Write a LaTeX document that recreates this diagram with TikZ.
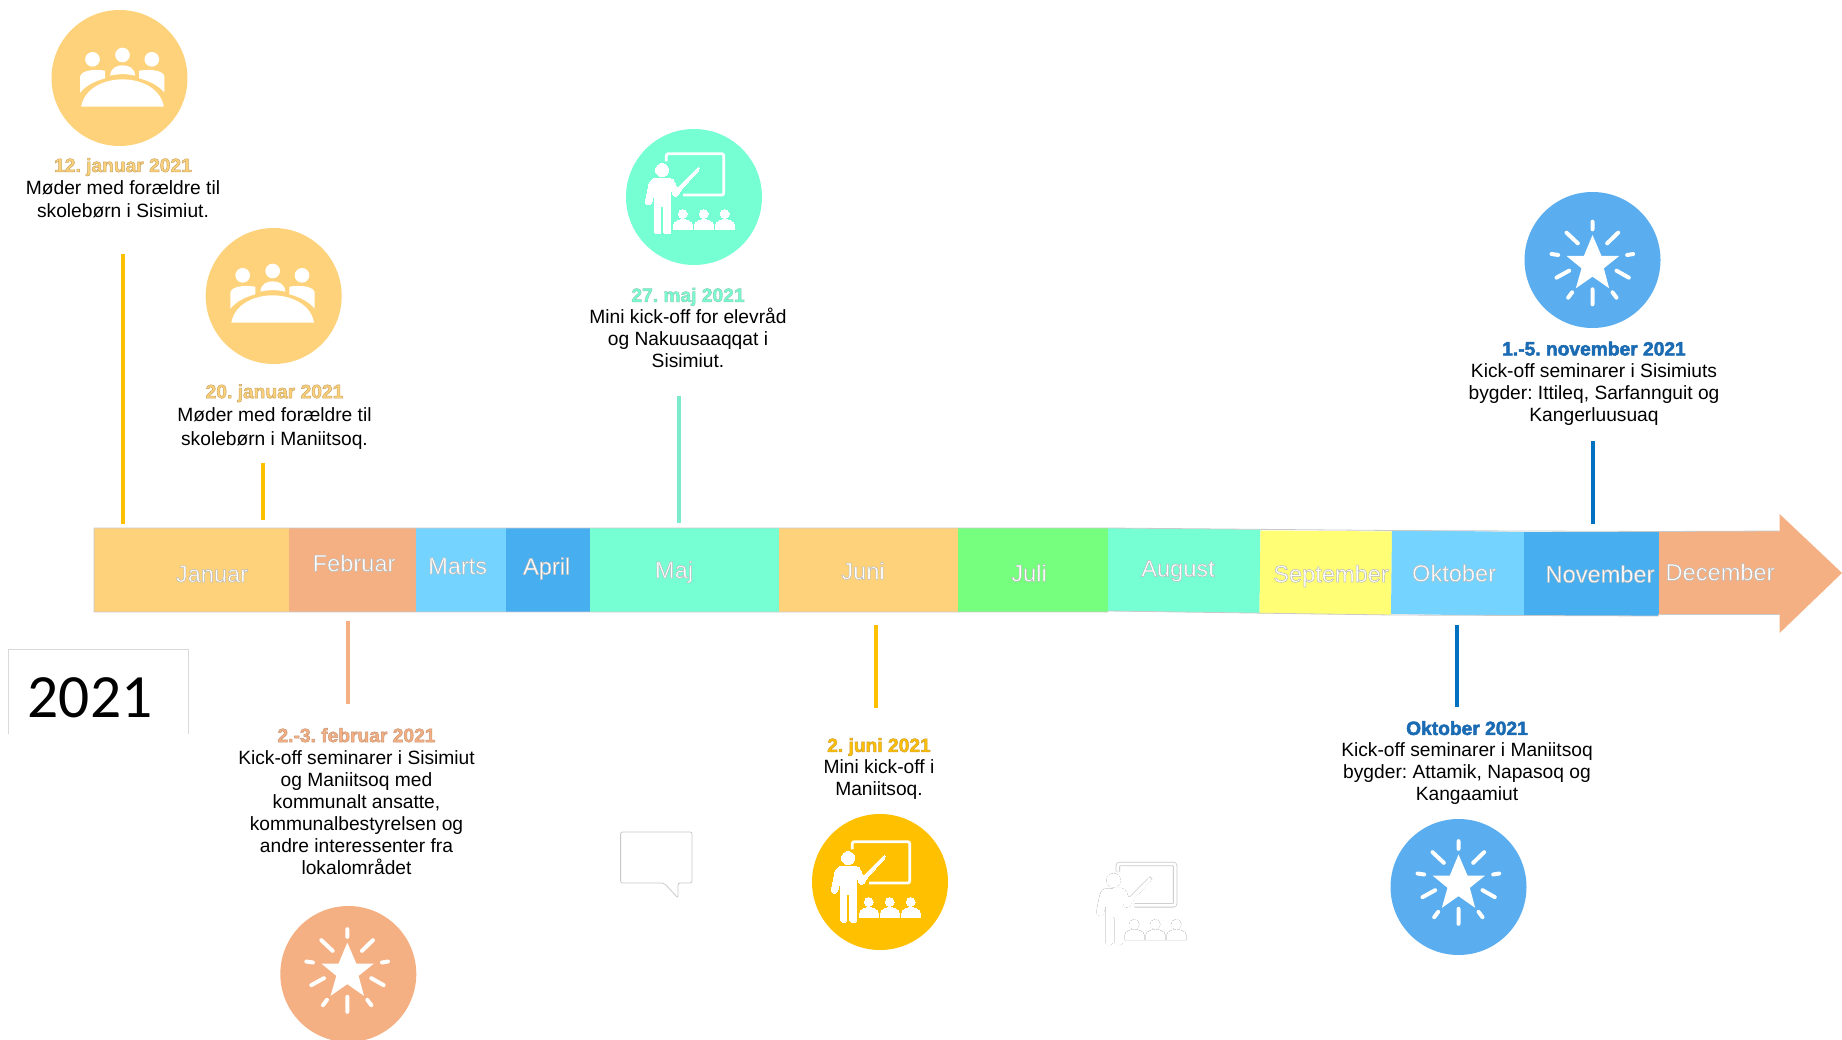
\documentclass[tikz,border=0pt]{standalone}
\usepackage{fontspec}
\setmainfont{Liberation Sans}
\newfontfamily\calibfont{Carlito}
\definecolor{cJan}{HTML}{FDD27A}
\definecolor{cFeb}{HTML}{F4B083}
\definecolor{cMar}{HTML}{75D3FF}
\definecolor{cApr}{HTML}{47AEF0}
\definecolor{cMaj}{HTML}{75FFD3}
\definecolor{cJul}{HTML}{76FF7E}
\definecolor{cSep}{HTML}{FFFE75}
\definecolor{cStar}{HTML}{5AADEE}
\definecolor{cGold}{HTML}{FFC000}
\definecolor{cLine}{HTML}{0070C0}
\definecolor{cDateBlue}{HTML}{1B6CB4}
\definecolor{cEdge}{HTML}{C9C9C9}
\definecolor{cStemMaj}{HTML}{7CEBCB}
\newcommand\outl[2]{\special{pdf:code #1 RG 2 Tr 0.5 w}#2\special{pdf:code 0 Tr}}
\newcommand\mtext[1]{\outl{0.72 0.72 0.72}{#1}}
\newcommand\dtext[3]{{\color{#1}\bfseries\outl{#2}{#3}}}
\tikzset{
  stem/.style={line width=4pt},
  disc/.style={circle,minimum size=136pt,inner sep=0pt,fill=#1},
  seg/.style={fill=#1},
  edge/.style={draw=cEdge,line width=0.8pt},
  monthlbl/.style={text=white,inner sep=0pt,font=\fontsize{23.6}{26}\selectfont},
  note/.style={align=center,inner sep=0pt,text=black,font=\frenchspacing\fontsize{19.2}{22}\selectfont},
  ghost/.style={draw=#1,line width=0.8pt,fill=white},
}
\newcommand\teacherPass[2]{%
  \fill[#1,draw=#1,line width=#2pt] (187,150) circle[radius=19.5];
  \path[fill=#1,draw=#1,line width=#2pt,rounded corners=1.6pt]
    (157,177)--(215,175)--(224,183)--(232,205)--(296,141)--(301,147)--(245,208)--(232,230)--(222,230)--(213,203)--(213,342)--(192,342)--(192,257)--(183,257)--(183,342)--(165,342)--(165,215)--(154,255)--(140,255)--(137,245)--(148,190)--cycle;
  \draw[#1,line width=\dimexpr 2.8pt+#2pt\relax,rounded corners=2pt] (200,124)--(200,101)--(372,101)--(372,225)--(250,225);
  \foreach \dx in {0,63,126}{
    \fill[#1,draw=#1,line width=#2pt] (249+\dx,282) circle[radius=13.5];
    \path[fill=#1,draw=#1,line width=#2pt] (222+\dx,328)--(222+\dx,315) .. controls (222+\dx,304) and (240+\dx,299) .. (250+\dx,299) .. controls (260+\dx,299) and (278+\dx,304) .. (278+\dx,315)--(278+\dx,328)--cycle;
  }
}
\newcommand\teacherIcon[2]{%
  \begin{scope}[shift={(#1,#2)},scale=0.3333,shift={(-280,-231)}]
    \teacherPass{white}{0}
  \end{scope}}
\newcommand\ghostIcon[2]{%
  \begin{scope}[shift={(#1,#2)},scale=0.3333,shift={(-280,-231)}]
    \teacherPass{cEdge}{1.6}
    \teacherPass{white}{0}
  \end{scope}}
\newcommand\meetingIcon[2]{%
  \begin{scope}[shift={(#1,#2)},scale=0.3333,shift={(-358,-233)},white]
    \fill (277,180) circle[radius=22];
    \fill (367,167) circle[radius=22];
    \fill (455,180) circle[radius=22];
    \fill (243,322) .. controls (252,268) and (310,240) .. (367,240) .. controls (424,240) and (482,268) .. (491,322)--cycle;
    \fill (330,229) .. controls (332,205) and (350,198) .. (367,198) .. controls (385,198) and (403,205) .. (405,229) .. controls (380,223) and (355,223) .. (330,229)--cycle;
    \fill (240,280)--(240,232) .. controls (242,215) and (275,208) .. (315,214)--(315,237) .. controls (285,245) and (258,258) .. (240,280)--cycle;
    \fill (493,280)--(493,232) .. controls (491,215) and (458,208) .. (417,214)--(417,237) .. controls (447,245) and (475,258) .. (493,280)--cycle;
  \end{scope}}
\newcommand\starIcon[2]{%
  \begin{scope}[shift={(#1,#2)},scale=0.3333,shift={(-278,-240)},white]
    \fill (278,165)--(305,228)--(358,228)--(312,265)--(328,325)--(278,290)--(228,325)--(245,265)--(200,228)--(252,228)--cycle;
    \draw[line width=4pt,line cap=round]
      (278,125)--(278,148) (200,158)--(234,190) (355,158)--(322,190)
      (155,222)--(175,225) (400,222)--(382,225) (170,293)--(208,272)
      (387,293)--(350,272) (205,353)--(217,337) (350,353)--(338,337)
      (278,328)--(278,373);
  \end{scope}}
\begin{document}
\begin{tikzpicture}[x=1pt,y=-1pt]
\useasboundingbox (0,0) rectangle (1842,1040);
\clip (0,0) rectangle (1842,1040);
% band
\fill[seg=cFeb] (1658.5,531)--(1779.6,531)--(1779.6,514)--(1842,573)--(1779.6,633)--(1779.6,614.5)--(1658.5,614.5)--cycle;
\fill[seg=cJan] (94,528)--(289,528)--(289,612)--(94,612)--cycle;
\fill[seg=cFeb] (289,528)--(416,528)--(416,612)--(289,612)--cycle;
\fill[seg=cMar] (416,528)--(506,528)--(506,612)--(416,612)--cycle;
\fill[seg=cApr] (506,528)--(590,528)--(590,612)--(506,612)--cycle;
\fill[seg=cMaj] (590,528)--(778.5,528)--(778.5,612)--(590,612)--cycle;
\fill[seg=cJan] (778.5,528)--(957.5,528)--(957.5,612)--(778.5,612)--cycle;
\fill[seg=cJul] (957.5,528)--(1108,528)--(1108,612)--(957.5,612)--cycle;
\fill[seg=cMaj] (1108,528)--(1260.5,529.5)--(1259.5,613)--(1108,611)--cycle;
\fill[seg=cSep] (1260.5,530.5)--(1392,531.5)--(1391,615)--(1259.5,613.5)--cycle;
\fill[seg=cMar] (1392,530)--(1524.4,532)--(1524.4,616)--(1391,614)--cycle;
\fill[seg=cApr] (1524.4,532)--(1658.5,532)--(1658.5,616)--(1524.4,616)--cycle;
\draw[edge] (94,612)--(94,528)--(1108,528) (94,612)--(1108,612) (1108,528)--(1392,530.5)--(1658.5,531.5)--(1779.6,531) (1108,611)--(1392,615)--(1658.5,616)--(1658.5,614.5)--(1779.6,614.5);
% month labels
\node[monthlbl] (mJan) at (212,574) {\mtext{Januar}};
\node[monthlbl] (mFeb) at (354,563) {\mtext{Februar}};
\node[monthlbl] (mMar) at (457.6,566) {\mtext{Marts}};
\node[monthlbl] (mApr) at (546.6,568.5) {\mtext{April}};
\node[monthlbl] (mMaj) at (674,572) {\mtext{Maj}};
\node[monthlbl] (mJun) at (863,571) {\mtext{Juni}};
\node[monthlbl] (mJul) at (1029,573) {\mtext{Juli}};
\node[monthlbl] (mAug) at (1178,571) {\mtext{August}};
\node[monthlbl] (mSep) at (1331,576) {\mtext{September}};
\node[monthlbl] (mOkt) at (1454,573) {\mtext{Oktober}};
\node[monthlbl] (mNov) at (1600,574) {\mtext{November}};
\node[monthlbl] (mDec) at (1720,572) {\mtext{December}};
% stems
\coordinate (s1a) at (123,254); \coordinate (s1b) at (123,524);
\coordinate (s2a) at (262.7,463); \coordinate (s2b) at (262.7,520);
\coordinate (s3a) at (679,396); \coordinate (s3b) at (679,523);
\coordinate (s4a) at (348,621); \coordinate (s4b) at (348,704);
\coordinate (s5a) at (875.6,625); \coordinate (s5b) at (875.6,708);
\coordinate (s6a) at (1456.5,625); \coordinate (s6b) at (1456.5,707);
\coordinate (s7a) at (1592.8,441); \coordinate (s7b) at (1592.8,524);
\draw[stem,cGold] (s1a)--(s1b);
\draw[stem,cGold] (s2a)--(s2b);
\draw[stem,cStemMaj] (s3a)--(s3b);
\draw[stem,cFeb] (s4a)--(s4b);
\draw[stem,cGold] (s5a)--(s5b);
\draw[stem,cLine] (s6a)--(s6b);
\draw[stem,cLine] (s7a)--(s7b);
% discs
\node[disc=cJan] (d1) at (119.5,78) {};
\meetingIcon{119.5}{77}
\node[disc=cJan] (d2) at (273.7,296) {};
\meetingIcon{269.7}{293}
\node[disc=cMaj] (d3) at (694,197) {};
\teacherIcon{693}{197}
\node[disc=cStar] (d4) at (1592.5,260) {};
\starIcon{1592.5}{260}
\node[disc=cFeb] (d5) at (348.3,974) {};
\starIcon{347.3}{967.5}
\node[disc=cGold] (d6) at (880,882) {};
\teacherIcon{879}{885}
\node[disc=cStar] (d7) at (1458.5,887) {};
\starIcon{1458.5}{879.5}
% notes
\node[note] (n1) at (123,188.2) {\dtext{cJan}{0.78 0.64 0.38}{12. januar 2021}\\[1pt]Møder med forældre til\\[1pt]skolebørn i Sisimiut.};
\node[note] (n2) at (274.5,416.7) {\dtext{cJan}{0.78 0.64 0.38}{20. januar 2021}\\[1pt]Møder med forældre til\\[2pt]skolebørn i Maniitsoq.};
\node[note] (n3) at (688,328) {\dtext{cMaj}{0.55 0.8 0.7}{27. maj 2021}\\Mini kick-off for elevråd\\og Nakuusaaqqat i\\Sisimiut.};
\node[note] (n4) at (1594,383.5) {\dtext{cDateBlue}{0.11 0.42 0.7}{1.-5. november 2021}\\Kick-off seminarer i Sisimiuts\\bygder: Ittileq, Sarfannguit og\\Kangerluusuaq};
\node[note] (n5) at (356.5,801.2) {\dtext{cFeb}{0.78 0.58 0.45}{2.-3. februar 2021}\\Kick-off seminarer i Sisimiut\\og Maniitsoq med\\kommunalt ansatte,\\kommunalbestyrelsen og\\andre interessenter fra\\lokalområdet};
\node[note] (n6) at (879,769) {\dtext{cGold}{0.8 0.62 0.2}{2. juni 2021}\\Mini kick-off i\\Maniitsoq.};
\node[note] (n7) at (1467,763) {\dtext{cDateBlue}{0.11 0.42 0.7}{Oktober 2021}\\Kick-off seminarer i Maniitsoq\\bygder: Attamik, Napasoq og\\Kangaamiut};
% year box
\draw[draw=cEdge!70,line width=0.8pt,fill=white] (8,734)--(8,649)--(188,649)--(188,734);
\node[inner sep=0pt,font=\calibfont\fontsize{61.5}{66}\selectfont] (year) at (90,698) {2021};
% empty bubble
\draw[ghost=cEdge,rounded corners=2pt] (620.6,832)--(692,832)--(692,883)--(678,883)--(678,898)--(664,883)--(620.6,883)--cycle;
% faint icon
\ghostIcon{1144.5}{907.3}
\end{tikzpicture}
\end{document}
